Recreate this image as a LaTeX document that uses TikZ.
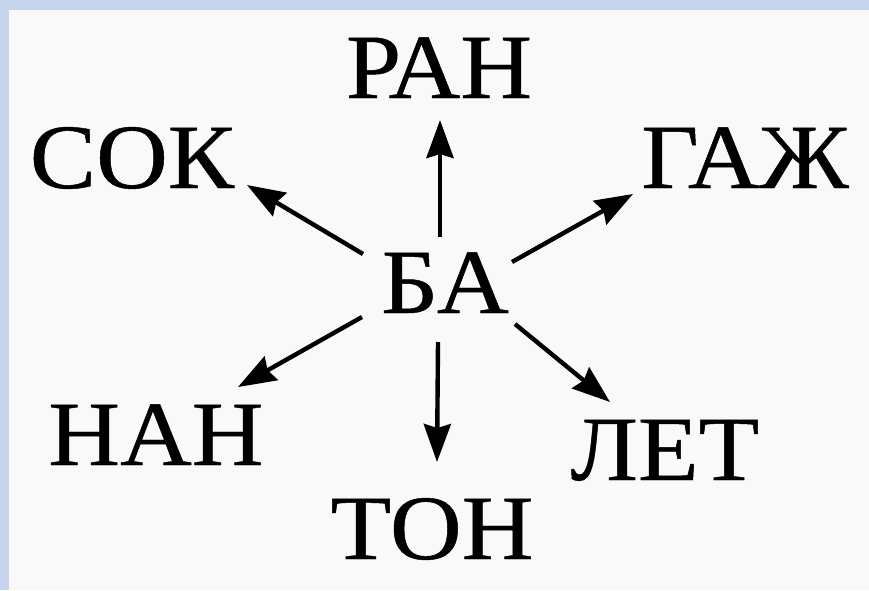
\documentclass[tikz,border=0pt]{standalone}
\usepackage{fontspec}
\setmainfont{Liberation Serif}
\newfontfamily\wordfont{Liberation Serif}[FakeBold=0.5]
\usetikzlibrary{arrows.meta}
\definecolor{frameblue}{HTML}{C6D5EE}
\definecolor{paper}{HTML}{F9F9F9}
\newcommand{\wordbox}[1]{\scalebox{1.08}[1]{#1}}
\tikzset{
  word/.style={anchor=base, inner sep=0pt, font=\wordfont\fontsize{92}{96}\selectfont, text=black},
  arr/.style={line width=4.4pt, -{Stealth[length=38pt,width=27pt,inset=4pt]}, black}
}
\begin{document}
\begin{tikzpicture}[x=1pt,y=-1pt]
\useasboundingbox (0,0) rectangle (869,590);
\fill[frameblue] (0,0) rectangle (869,590);
\fill[paper] (9,10) rectangle (869,590);
% words
\node[word] (ba)  at (445,313) {\wordbox{БА}};
\node[word] (ran) at (439,98)  {\wordbox{РАН}};
\node[word] (sok) at (132,188) {\wordbox{СОК}};
\node[word] (gaz) at (745,188) {\wordbox{ГАЖ}};
\node[word] (nan) at (156,465) {\wordbox{НАН}};
\node[word] (let) at (665,480) {\wordbox{ЛЕТ}};
\node[word] (ton) at (432,559) {\wordbox{ТОН}};
% arrow ends
\coordinate (s1) at (440,237); \coordinate (e1) at (440,120);
\coordinate (s2) at (363,254); \coordinate (e2) at (247,185);
\coordinate (s3) at (512,262); \coordinate (e3) at (633,194);
\coordinate (s4) at (362,317); \coordinate (e4) at (238,387);
\coordinate (s5) at (438,342); \coordinate (e5) at (437,462);
\coordinate (s6) at (515,324); \coordinate (e6) at (610,402);
\draw[arr] (s1) -- (e1);
\draw[arr] (s2) -- (e2);
\draw[arr] (s3) -- (e3);
\draw[arr] (s4) -- (e4);
\draw[arr] (s5) -- (e5);
\draw[arr] (s6) -- (e6);
\end{tikzpicture}
\end{document}
